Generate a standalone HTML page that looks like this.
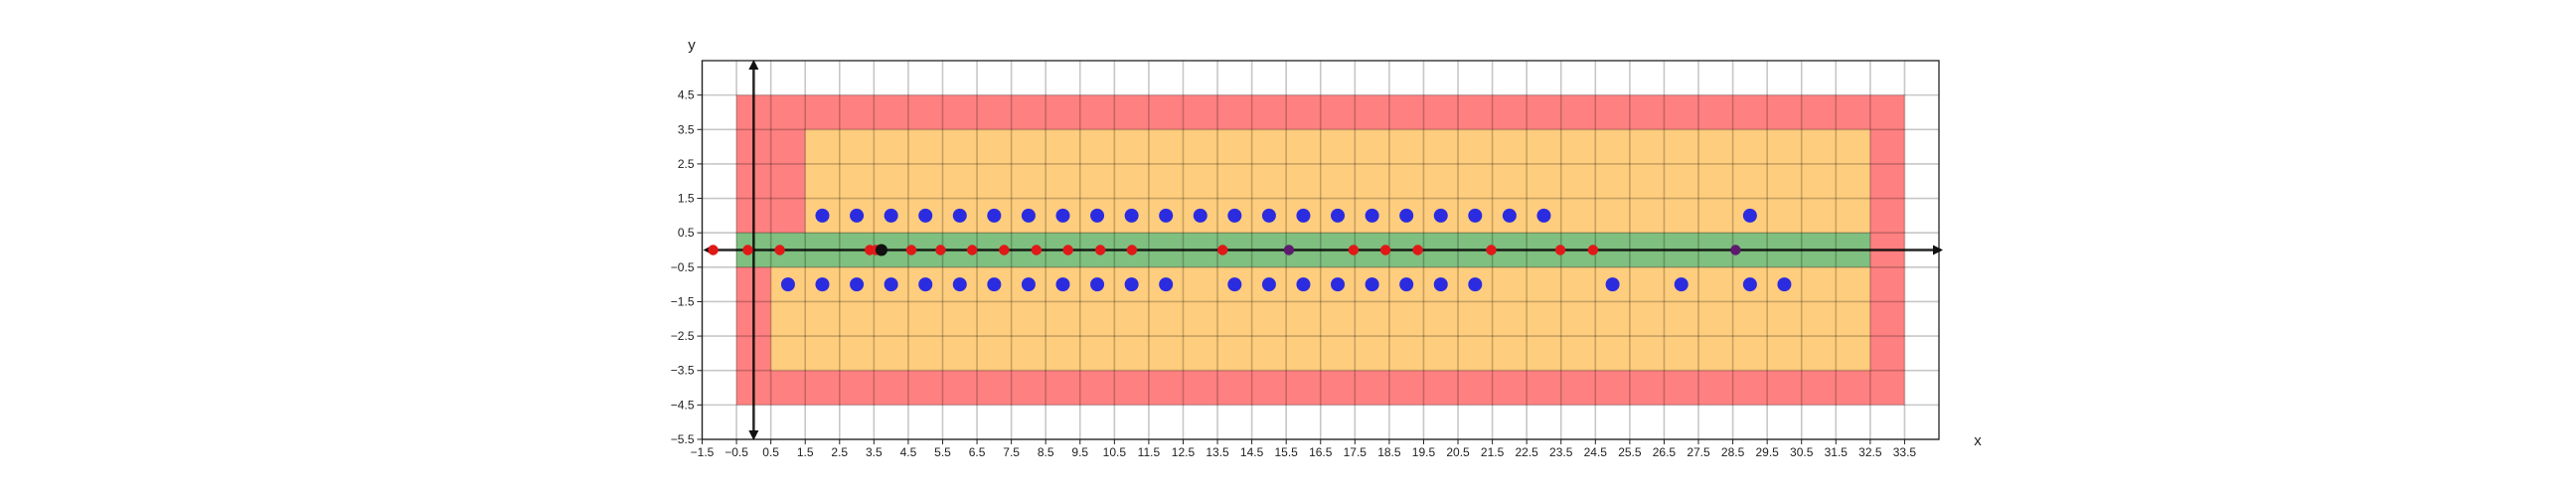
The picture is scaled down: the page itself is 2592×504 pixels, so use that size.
<!DOCTYPE html>
<html><head><meta charset="utf-8">
<style>
html,body{margin:0;padding:0;background:#fff;}
svg{display:block;font-family:"Liberation Sans","DejaVu Sans",sans-serif;}
</style></head>
<body>
<svg id="chart" width="2592" height="504" viewBox="0 0 2592 504" xmlns="http://www.w3.org/2000/svg"></svg>
<script>
const xTicks = [-1.5,-0.5,0.5,1.5,2.5,3.5,4.5,5.5,6.5,7.5,8.5,9.5,10.5,11.5,12.5,13.5,14.5,15.5,16.5,17.5,18.5,19.5,20.5,21.5,22.5,23.5,24.5,25.5,26.5,27.5,28.5,29.5,30.5,31.5,32.5,33.5];
const yTicks = [-5.5,-4.5,-3.5,-2.5,-1.5,-0.5,0.5,1.5,2.5,3.5,4.5];
const blueTopX = [2,3,4,5,6,7,8,9,10,11,12,13,14,15,16,17,18,19,20,21,22,23,29];
const blueBottomX = [1,2,3,4,5,6,7,8,9,10,11,12,14,15,16,17,18,19,20,21,25,27,29,30];
const redX = [-1.18,-0.17,0.76,3.38,3.56,4.59,5.44,6.36,7.29,8.23,9.15,10.09,11.01,13.65,17.46,18.39,19.33,21.47,23.48,24.43];
const purpleX = [15.58,28.58];
const blackX = [3.72];
// zones: [x0,x1,y0,y1]
const redZone = [-0.5,33.5,-4.5,4.5];
const orangeTop = [1.5,32.5,0.5,3.5];
const orangeBottom = [0.5,32.5,-3.5,-0.5];
const greenZone = [-0.5,32.5,-0.5,0.5];

const L=706.5,R=1951,T=61,B=442;
const XMIN=-1.5,XMAX=34.5,YMIN=-5.5,YMAX=5.5;
const sx=v=>L+(v-XMIN)/(XMAX-XMIN)*(R-L);
const sy=v=>B-(v-YMIN)/(YMAX-YMIN)*(B-T);
const svg=document.getElementById('chart');
const NS='http://www.w3.org/2000/svg';
function mk(tag,attrs,parent){const e=document.createElementNS(NS,tag);for(const k in attrs)e.setAttribute(k,attrs[k]);(parent||svg).appendChild(e);return e;}

function zone(z,fill,name){
  const r=mk('rect',{x:sx(z[0]),y:sy(z[3]),width:sx(z[1])-sx(z[0]),height:sy(z[2])-sy(z[3]),fill:fill});
  
  
}
zone(redZone,'#ff8080','red-zone');
zone(orangeTop,'#fecd7d','orange-zone-top');
zone(orangeBottom,'#fecd7d','orange-zone-bottom');
zone(greenZone,'#7fbf7f','green-zone');

const grid=mk('g',{});


xTicks.forEach(v=>{mk('line',{x1:sx(v),x2:sx(v),y1:T,y2:B,stroke:'rgba(0,0,0,0.22)','stroke-width':1.6},grid);});
yTicks.forEach(v=>{mk('line',{x1:L,x2:R,y1:sy(v),y2:sy(v),stroke:'rgba(0,0,0,0.22)','stroke-width':1.6},grid);});

const frame=mk('rect',{x:L,y:T,width:R-L,height:B-T,fill:'none',stroke:'#222','stroke-width':1.3});



const xt=mk('g',{'font-size':12,fill:'#222','text-anchor':'middle'});


xTicks.forEach(v=>{
  mk('line',{x1:sx(v),x2:sx(v),y1:B,y2:B+5,stroke:'#222','stroke-width':1},xt);
  const t=mk('text',{x:sx(v),y:B+17},xt);t.textContent=String(v).replace('-','\u2212');
});
const yt=mk('g',{'font-size':12,fill:'#222','text-anchor':'end'});


yTicks.forEach(v=>{
  mk('line',{x1:L-5,x2:L,y1:sy(v),y2:sy(v),stroke:'#222','stroke-width':1},yt);
  const t=mk('text',{x:L-8,y:sy(v)+4},yt);t.textContent=String(v).replace('-','\u2212');
});

// axes arrows
const ax=mk('g',{});


const y0=sy(0),x0=sx(0);
mk('line',{x1:L+8,x2:R+2,y1:y0,y2:y0,stroke:'rgba(0,0,0,0.85)','stroke-width':2.5},ax);
mk('polygon',{points:`${R+4},${y0} ${R-6},${y0-5} ${R-6},${y0+5}`,fill:'#111'},ax);
mk('polygon',{points:`${L+1},${y0} ${L+11},${y0-5} ${L+11},${y0+5}`,fill:'#111'},ax);
mk('line',{x1:x0,x2:x0,y1:T+8,y2:B-8,stroke:'rgba(0,0,0,0.85)','stroke-width':2.5},ax);
mk('polygon',{points:`${x0},${T-1} ${x0-5},${T+9} ${x0+5},${T+9}`,fill:'#111'},ax);
mk('polygon',{points:`${x0},${B+1} ${x0-5},${B-9} ${x0+5},${B-9}`,fill:'#111'},ax);

function pts(xs,yv,r,fill,name){
  const g=mk('g',{});
  
  
  xs.forEach(v=>{
    const c=mk('circle',{cx:sx(v),cy:sy(yv),r:r,fill:fill},g);
    
    
  });
}
pts(blueTopX,1,7,'#2b2be0','blue-top-series');
pts(blueBottomX,-1,7,'#2b2be0','blue-bottom-series');
pts(redX,0,5.2,'#e01818','red-series');
pts(purpleX,0,5.2,'#5c1b6e','purple-series');
pts(blackX,0,6,'#111','black-series');

const xl=mk('text',{x:1990,y:448,'font-size':15,fill:'#222','text-anchor':'middle'});xl.textContent='x';


const yl=mk('text',{x:696,y:50,'font-size':15,fill:'#222','text-anchor':'middle'});yl.textContent='y';


</script>
</body></html>
